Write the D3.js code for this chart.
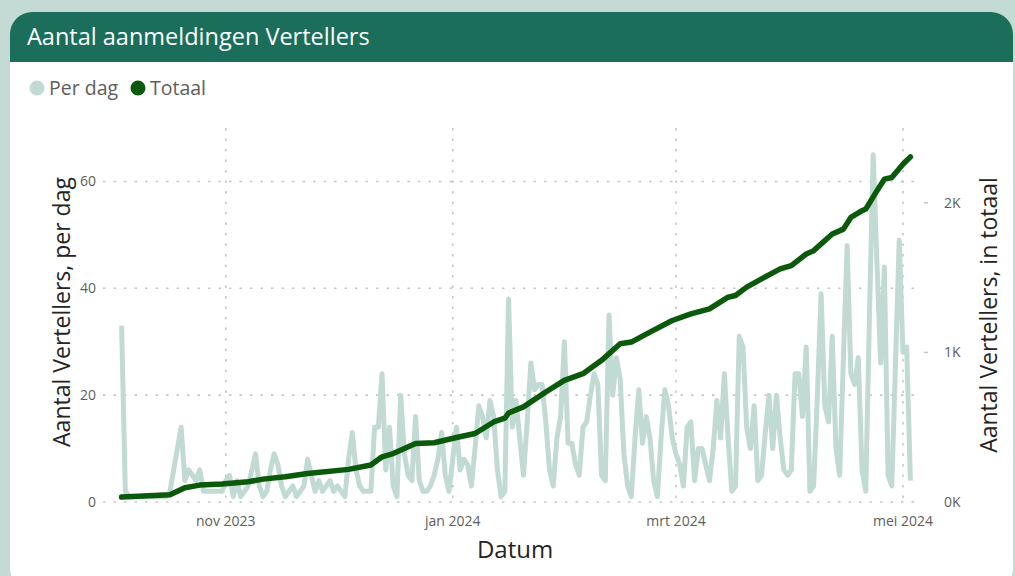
<!DOCTYPE html>
<html>
<head>
<meta charset="utf-8">
<script src="https://cdn.jsdelivr.net/npm/d3@7"></script>
<style>
  html, body { margin: 0; padding: 0; background: #c4dbd5; }
  svg { display: block; font-family: "Open Sans", "Noto Sans", sans-serif; }
  .grid line { stroke: #c8c6c4; stroke-width: 1.6; stroke-dasharray: 2.5, 8; }
  .tick-label { fill: #605e5c; font-size: 14px; }
  .axis-title { fill: #252423; font-size: 23px; }
</style>
</head>
<body>
<div id="chart"></div>
<script>
// daily registrations, starting 4 Oct 2023
const startDag = new Date(2023, 9, 4);
const perDag = [
  33, 2, 1, 1, 1, 1, 1, 1, 1, 1,
  1, 1, 1, 2, 6, 10, 14, 4, 6, 5,
  4, 6, 2, 2, 2, 2, 2, 2, 4, 5,
  1, 4, 1, 2, 3, 6, 9, 3, 1, 2,
  6, 9, 7, 3, 1, 2, 3, 1, 2, 3,
  8, 5, 2, 4, 2, 3, 4, 2, 3, 2,
  1, 8, 13, 6, 3, 2, 2, 2, 14, 14,
  24, 6, 14, 3, 1, 20, 9, 5, 4, 16,
  4, 2, 2, 3, 5, 8, 13, 5, 2, 8,
  14, 6, 8, 7, 3, 10, 18, 16, 12, 19,
  16, 6, 1, 2, 38, 14, 19, 12, 5, 15,
  26, 21, 22, 22, 15, 6, 3, 12, 16, 30,
  11, 11, 7, 5, 14, 15, 20, 24, 22, 5,
  4, 35, 20, 27, 23, 9, 3, 1, 12, 21,
  11, 16, 12, 4, 1, 12, 21, 18, 12, 9,
  7, 3, 14, 15, 4, 10, 10, 7, 4, 10,
  19, 12, 24, 12, 2, 3, 31, 29, 14, 10,
  18, 4, 5, 13, 20, 10, 20, 12, 6, 5,
  6, 24, 24, 16, 29, 2, 3, 20, 39, 18,
  15, 31, 10, 5, 27, 48, 24, 22, 27, 6,
  2, 35, 65, 45, 26, 44, 5, 3, 26, 49,
  28, 29, 4
];

// running total, read at these day offsets from startDag
const totaalDag = [0, 13, 17, 21, 27, 34, 38, 44, 50, 61, 67, 70, 73, 79, 84, 90, 95, 100, 103, 104,
  108, 114, 119, 124, 129, 134, 137, 142, 148, 153, 158, 163, 165, 168, 172, 177, 180, 184, 186, 191,
  194, 196, 199, 200, 203, 205, 207, 210, 212];
const totaalWaarde = [33, 48, 95, 113, 120, 135, 153, 169, 191, 218, 247, 302, 324, 391, 396, 431, 458, 535, 560, 595,
  636, 735, 813, 858, 947, 1058, 1069, 1136, 1213, 1258, 1291, 1369, 1380, 1436, 1491, 1558, 1580, 1658, 1680, 1791,
  1824, 1902, 1947, 1958, 2080, 2158, 2169, 2258, 2307];

const maandTicks = [new Date(2023, 10, 1), new Date(2024, 0, 1), new Date(2024, 2, 1), new Date(2024, 4, 1)];
const maandLabels = ["nov 2023", "jan 2024", "mrt 2024", "mei 2024"];
const linksTicks = [0, 20, 40, 60];
const rechtsTicks = [0, 1000, 2000];
const rechtsLabels = ["0K", "1K", "2K"];

const W = 1015, H = 576;
const m = { left: 103, right: 920, top: 128, bottom: 502 };

const dagDatum = i => d3.timeDay.offset(startDag, i);

const svg = d3.select("#chart").append("svg")
  .attr("width", W)
  .attr("height", H);

// card + header
svg.append("defs").append("clipPath").attr("id", "card")
  .append("rect").attr("x", 10).attr("y", 12).attr("width", 1003).attr("height", 578).attr("rx", 22);
const card = svg.append("g").attr("clip-path", "url(#card)");
card.append("rect").attr("x", 10).attr("y", 12).attr("width", 1003).attr("height", 578).attr("fill", "#fff");
card.append("rect").attr("x", 10).attr("y", 12).attr("width", 1003).attr("height", 50).attr("fill", "#1a6e5a");
svg.append("text")
  .attr("x", 27).attr("y", 45)
  .attr("fill", "#fff")
  .style("font-size", "23.5px")
  .text("Aantal aanmeldingen Vertellers");

// legend
const legend = [
  { label: "Per dag", color: "#c2dad4", x: 37 },
  { label: "Totaal", color: "#0b5a0b", x: 138 }
];
legend.forEach(l => {
  svg.append("circle").attr("cx", l.x).attr("cy", 88).attr("r", 7.5).attr("fill", l.color);
  svg.append("text").attr("x", l.x + 12).attr("y", 95)
    .attr("fill", "#605e5c").style("font-size", "19.5px").text(l.label);
});

// scales
const x = d3.scaleTime()
  .domain([new Date(2023, 8, 29), new Date(2024, 4, 5, 14)])
  .range([m.left, m.right]);
const yL = d3.scaleLinear().domain([0, 70]).range([m.bottom, m.top]);
const yR = d3.scaleLinear().domain([0, 2500]).range([m.bottom, m.top]);

// grid
const grid = svg.append("g").attr("class", "grid");
grid.selectAll("line.h")
  .data(linksTicks)
  .enter().append("line")
  .attr("class", "h")
  .attr("x1", m.left).attr("x2", m.right)
  .attr("y1", d => yL(d)).attr("y2", d => yL(d));
grid.selectAll("line.v")
  .data(maandTicks)
  .enter().append("line")
  .attr("class", "v")
  .attr("x1", d => x(d)).attr("x2", d => x(d))
  .attr("y1", m.top).attr("y2", m.bottom);

// tick labels
svg.append("g").selectAll("text")
  .data(linksTicks)
  .enter().append("text")
  .attr("class", "tick-label")
  .attr("x", 96).attr("y", d => yL(d) + 5)
  .attr("text-anchor", "end")
  .text(d => d);

const rechts = svg.append("g");
rechts.selectAll("line")
  .data(rechtsTicks.slice(1))
  .enter().append("line")
  .attr("x1", 924).attr("x2", 928)
  .attr("y1", d => yR(d)).attr("y2", d => yR(d))
  .attr("stroke", "#c8c6c4").attr("stroke-width", 1.5);
rechts.selectAll("text")
  .data(rechtsTicks)
  .enter().append("text")
  .attr("class", "tick-label")
  .attr("x", 944).attr("y", d => yR(d) + 5)
  .text((d, i) => rechtsLabels[i]);

svg.append("g").selectAll("text")
  .data(maandTicks)
  .enter().append("text")
  .attr("class", "tick-label")
  .attr("x", d => x(d)).attr("y", 526)
  .attr("text-anchor", "middle")
  .text((d, i) => maandLabels[i]);

// axis titles
svg.append("text").attr("class", "axis-title")
  .attr("text-anchor", "middle")
  .attr("transform", "translate(70," + ((m.top + m.bottom) / 2 - 3) + ") rotate(-90)")
  .text("Aantal Vertellers, per dag");
svg.append("text").attr("class", "axis-title")
  .attr("text-anchor", "middle")
  .attr("transform", "translate(997," + ((m.top + m.bottom) / 2) + ") rotate(-90)")
  .text("Aantal Vertellers, in totaal");
svg.append("text").attr("class", "axis-title")
  .attr("x", 515).attr("y", 558)
  .attr("text-anchor", "middle")
  .style("font-size", "24px")
  .text("Datum");

// lines
const lijnDag = d3.line()
  .x((d, i) => x(dagDatum(i)))
  .y(d => yL(d));
svg.append("path")
  .datum(perDag)
  .attr("d", lijnDag)
  .attr("fill", "none")
  .attr("stroke", "#c2dad4")
  .attr("stroke-width", 5)
  .attr("stroke-linejoin", "round");

const lijnTotaal = d3.line()
  .x(d => x(dagDatum(d[0])))
  .y(d => yR(d[1]));
svg.append("path")
  .datum(d3.zip(totaalDag, totaalWaarde))
  .attr("d", lijnTotaal)
  .attr("fill", "none")
  .attr("stroke", "#0b5a0b")
  .attr("stroke-width", 5.5)
  .attr("stroke-linejoin", "round")
  .attr("stroke-linecap", "round");
</script>
</body>
</html>
